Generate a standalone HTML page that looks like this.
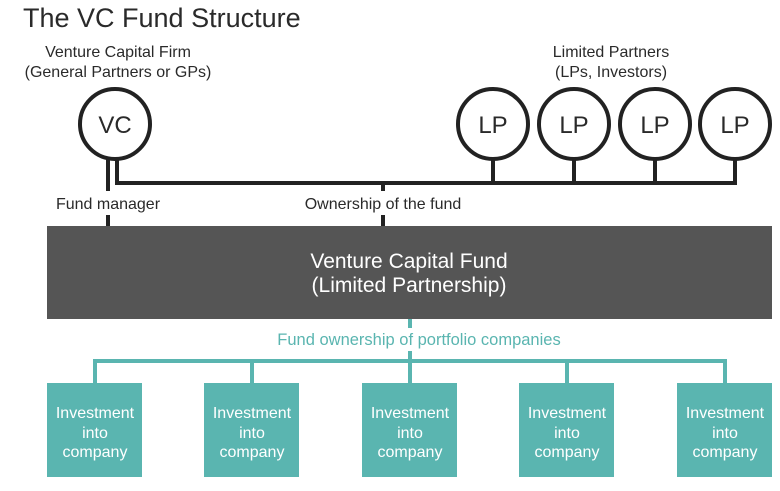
<!DOCTYPE html>
<html><head><meta charset="utf-8"><style>
html,body{margin:0;padding:0;background:#fff;}
svg{display:block;font-family:"Liberation Sans",Arial,sans-serif;}
</style></head><body>
<svg width="780" height="491" viewBox="0 0 780 491" xmlns="http://www.w3.org/2000/svg">
<text x="23" y="27" font-size="27" fill="#2a2a2a">The VC Fund Structure</text>
<g font-size="16" fill="#2a2a2a" text-anchor="middle">
<text x="118" y="57">Venture Capital Firm</text>
<text x="118" y="77">(General Partners or GPs)</text>
<text x="611" y="57">Limited Partners</text>
<text x="611" y="77">(LPs, Investors)</text>
</g>
<g fill="none" stroke="#222" stroke-width="4">
<circle cx="115" cy="124" r="35"/>
<circle cx="493" cy="124" r="35"/>
<circle cx="574" cy="124" r="35"/>
<circle cx="655" cy="124" r="35"/>
<circle cx="735" cy="124" r="35"/>
<line x1="108" y1="158" x2="108" y2="191"/>
<line x1="108" y1="215" x2="108" y2="227"/>
<polyline points="117,158 117,183 737,183"/>
<line x1="493" y1="158" x2="493" y2="183"/>
<line x1="574" y1="158" x2="574" y2="183"/>
<line x1="655" y1="158" x2="655" y2="183"/>
<line x1="735" y1="158" x2="735" y2="185"/>
<line x1="383" y1="183" x2="383" y2="191"/>
<line x1="383" y1="215" x2="383" y2="227"/>
</g>
<g font-size="24" fill="#2a2a2a" text-anchor="middle">
<text x="115" y="133">VC</text>
<text x="493" y="133">LP</text>
<text x="574" y="133">LP</text>
<text x="655" y="133">LP</text>
<text x="735" y="133">LP</text>
</g>
<text x="108" y="209" font-size="16" fill="#2a2a2a" text-anchor="middle">Fund manager</text>
<text x="383" y="209" font-size="16" fill="#2a2a2a" text-anchor="middle">Ownership of the fund</text>
<rect x="47" y="226" width="725" height="93" fill="#555555"/>
<text x="409" y="268" font-size="21" fill="#fff" text-anchor="middle">Venture Capital Fund</text>
<text x="409" y="292" font-size="21" fill="#fff" text-anchor="middle">(Limited Partnership)</text>
<g stroke="#5ab5b0" stroke-width="4" fill="none">
<line x1="410" y1="319" x2="410" y2="328"/>
<line x1="410" y1="351" x2="410" y2="361"/>
<polyline points="95,384 95,361 725,361 725,384"/>
<line x1="252" y1="361" x2="252" y2="384"/>
<line x1="410" y1="361" x2="410" y2="384"/>
<line x1="567" y1="361" x2="567" y2="384"/>
</g>
<text x="419" y="345" font-size="16.5" fill="#5ab5b0" text-anchor="middle">Fund ownership of portfolio companies</text>
<g fill="#5ab5b0">
<rect x="47" y="383" width="95" height="94"/>
<rect x="204" y="383" width="95" height="94"/>
<rect x="362" y="383" width="95" height="94"/>
<rect x="519" y="383" width="95" height="94"/>
<rect x="677" y="383" width="95" height="94"/>
</g>
<g font-size="16" fill="#fff" text-anchor="middle">
<text x="95" y="418">Investment</text><text x="95" y="438">into</text><text x="95" y="457">company</text>
<text x="252" y="418">Investment</text><text x="252" y="438">into</text><text x="252" y="457">company</text>
<text x="410" y="418">Investment</text><text x="410" y="438">into</text><text x="410" y="457">company</text>
<text x="567" y="418">Investment</text><text x="567" y="438">into</text><text x="567" y="457">company</text>
<text x="725" y="418">Investment</text><text x="725" y="438">into</text><text x="725" y="457">company</text>
</g>
</svg>
</body></html>
